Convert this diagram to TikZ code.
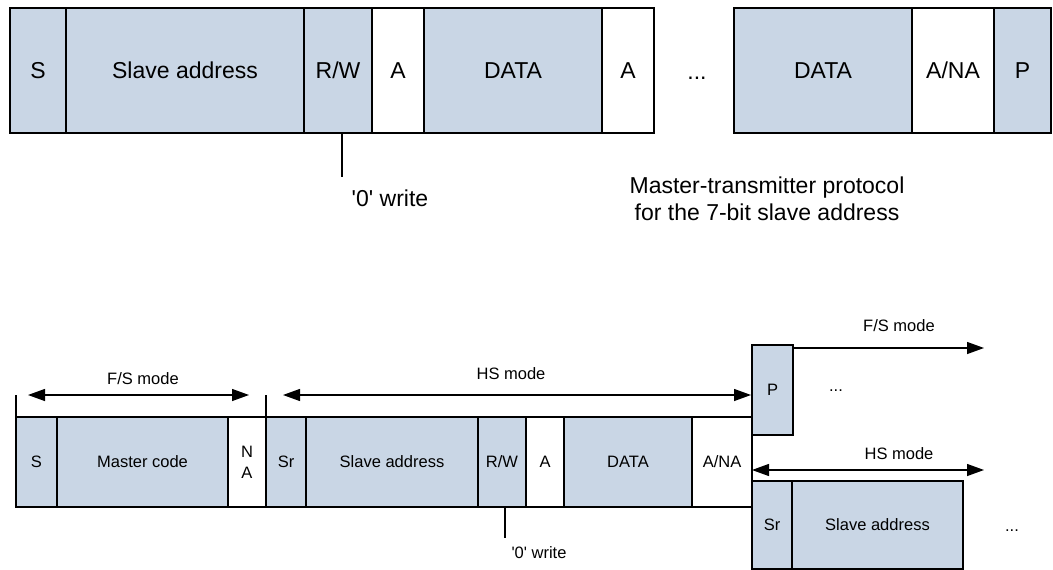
\documentclass[tikz,border=0pt]{standalone}
\usepackage{fontspec}
\setmainfont{Liberation Sans}
\usetikzlibrary{arrows.meta}
\definecolor{cfill}{RGB}{201,214,229}
\begin{document}
\begin{tikzpicture}[x=1pt,y=-1pt,
 big/.style={draw, line width=1.6pt, anchor=north west, inner sep=0pt, outer sep=0pt, minimum height=125pt, font=\fontsize{23}{27}\selectfont},
 small/.style={draw, line width=1.3pt, anchor=north west, inner sep=0pt, outer sep=0pt, minimum height=90pt, font=\fontsize{16.5}{21}\selectfont},
 fl/.style={fill=cfill},
 wh/.style={fill=white},
 lbig/.style={font=\fontsize{23}{27}\selectfont, inner sep=0pt},
 lsmall/.style={font=\fontsize{16.5}{20}\selectfont, inner sep=0pt},
 tick/.style={line width=1.3pt},
 dbl/.style={line width=1.3pt, {Triangle[length=17pt,width=12pt]}-{Triangle[length=17pt,width=12pt]}},
 sgl/.style={line width=1.3pt, -{Triangle[length=17pt,width=12pt]}},
]
\useasboundingbox (0,0) rectangle (1053,570);

% ---------- top protocol ----------
\node[big,fl,minimum width=56pt]  (s)   at (10,8)  {S};
\node[big,fl,minimum width=238pt] (sa)  at (66,8)  {Slave address};
\node[big,fl,minimum width=68pt]  (rw)  at (304,8) {R/W};
\node[big,wh,minimum width=52pt]  (a1)  at (372,8) {A};
\node[big,fl,minimum width=178pt] (d1)  at (424,8) {DATA};
\node[big,wh,minimum width=52pt]  (a2)  at (602,8) {A};
\node[lbig,anchor=base] (dots1) at (697,79) {...};
\node[big,fl,minimum width=178pt] (d2)  at (734,8) {DATA};
\node[big,wh,minimum width=82pt]  (ana) at (912,8) {A/NA};
\node[big,fl,minimum width=57pt]  (p)   at (994,8) {P};

\coordinate (t1) at (342,177);
\draw[tick] (t1 |- rw.south) -- (t1);
\node[lbig] (w1) at (390,198) {\textquotesingle0\textquotesingle{} write};
\node[lbig,align=center] (cap) at (767,199) {Master-transmitter protocol\\for the 7-bit slave address};

% ---------- bottom protocol ----------
\node[small,fl,minimum width=41pt]  (bs)   at (16,417)  {S};
\node[small,fl,minimum width=171pt] (mc)   at (57,417)  {Master code};
\node[small,wh,minimum width=38pt,align=center] (na) at (228,417) {N\\A};
\node[small,fl,minimum width=40pt]  (sr)   at (266,417) {Sr};
\node[small,fl,minimum width=172pt] (bsa)  at (306,417) {Slave address};
\node[small,fl,minimum width=48pt]  (brw)  at (478,417) {R/W};
\node[small,wh,minimum width=38pt]  (ba)   at (526,417) {A};
\node[small,fl,minimum width=128pt] (bd)   at (564,417) {DATA};
\node[small,wh,minimum width=60pt]  (bana) at (692,417) {A/NA};
\node[small,fl,minimum width=41pt,minimum height=90pt] (bp)  at (752,345) {P};
\node[small,fl,minimum width=40pt,minimum height=88pt] (sr2) at (752,481) {Sr};
\node[small,fl,minimum width=171pt,minimum height=88pt] (sa2) at (792,481) {Slave address};

% boundary lines
\coordinate (l1t) at (16,395);
\coordinate (l2t) at (266,395);
\coordinate (l3b) at (752,560);
\draw[line width=1.5pt] (l1t) -- (bs.south west);
\draw[line width=1.5pt] (l2t) -- (sr.south west);
\draw[line width=1.5pt] (bp.south west) -- (l3b);

% mode arrows
\coordinate (f1a) at (28,395);
\coordinate (f1b) at (249,395);
\draw[dbl] (f1a) -- (f1b);
\node[lsmall] (fsl) at (143,379) {F/S mode};
\coordinate (h1a) at (283,395);
\coordinate (h1b) at (751,395);
\draw[dbl] (h1a) -- (h1b);
\node[lsmall] (hsl) at (511,374) {HS mode};

\coordinate (f2a) at (793,348);
\coordinate (f2b) at (984,348);
\draw[sgl] (f2a) -- (f2b);
\node[lsmall] (fsl2) at (899,326) {F/S mode};
\coordinate (h2a) at (752,470);
\coordinate (h2b) at (984,470);
\draw[dbl] (h2a) -- (h2b);
\node[lsmall] (hsl2) at (899,454) {HS mode};

\node[lsmall,anchor=base] (dots2) at (836,391) {...};
\node[lsmall,anchor=base] (dots3) at (1012,531) {...};

\coordinate (t2) at (505,538);
\draw[tick] (t2 |- brw.south) -- (t2);
\node[lsmall] (w2) at (539,553) {\textquotesingle0\textquotesingle{} write};
\end{tikzpicture}
\end{document}
